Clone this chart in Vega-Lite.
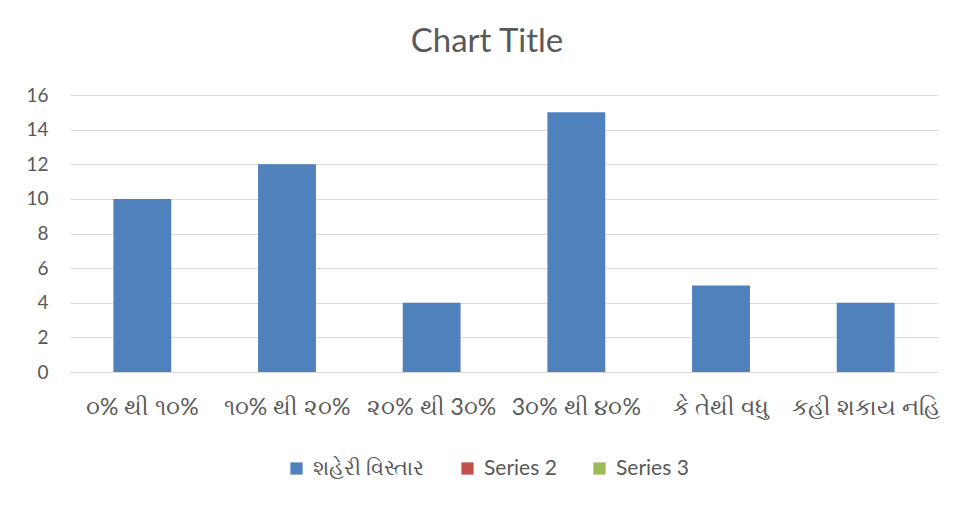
{
  "$schema": "https://vega.github.io/schema/vega-lite/v6.json",
  "autosize": "none",
  "width": 868,
  "height": 277,
  "padding": {"left": 70, "top": 95, "right": 20, "bottom": 136},
  "background": "white",
  "title": {"text": "Chart Title", "fontSize": 33, "font": "Lato", "fontWeight": "normal", "color": "#595959", "offset": 27, "dx": -17},
  "data": {"values": [
    {"cat": "૦% થી ૧૦%", "series": "શહેરી વિસ્તાર", "value": 10},
    {"cat": "૧૦% થી ૨૦%", "series": "શહેરી વિસ્તાર", "value": 12},
    {"cat": "૨૦% થી 3૦%", "series": "શહેરી વિસ્તાર", "value": 4},
    {"cat": "3૦% થી ૪૦%", "series": "શહેરી વિસ્તાર", "value": 15},
    {"cat": "કે તેથી વધુ", "series": "શહેરી વિસ્તાર", "value": 5},
    {"cat": "કહી શકાય નહિ", "series": "શહેરી વિસ્તાર", "value": 4}
  ]},
  "mark": {"type": "bar"},
  "encoding": {
    "x": {"field": "cat", "type": "nominal", "sort": null,
      "scale": {"paddingInner": 0.6, "paddingOuter": 0.3},
      "axis": {"title": null, "labelAngle": 0, "labelFontSize": 23, "labelColor": "#595959", "labelFont": "Lato", "labelOverlap": false, "labelLimit": 0, "ticks": false, "domainColor": "#d9d9d9", "labelPadding": 24}},
    "y": {"field": "value", "type": "quantitative",
      "scale": {"domain": [0, 16]},
      "axis": {"title": null, "values": [0, 2, 4, 6, 8, 10, 12, 14, 16], "labelFontSize": 19, "labelColor": "#595959", "labelFont": "Lato", "ticks": false, "domain": false, "gridColor": "#d9d9d9", "labelPadding": 22}},
    "color": {"field": "series", "type": "nominal",
      "scale": {"domain": ["શહેરી વિસ્તાર", "Series 2", "Series 3"], "range": ["#4f81bd", "#c0504d", "#9bbb59"]},
      "legend": {"title": null, "orient": "none", "direction": "horizontal", "legendX": 216, "legendY": 363, "symbolType": "square", "symbolSize": 150, "symbolStrokeWidth": 0, "labelFontSize": 21, "labelColor": "#595959", "labelFont": "Lato", "gridAlign": "none", "columnPadding": 32, "labelLimit": 0, "labelOffset": 6}}
  },
  "config": {"view": {"stroke": null}}
}
